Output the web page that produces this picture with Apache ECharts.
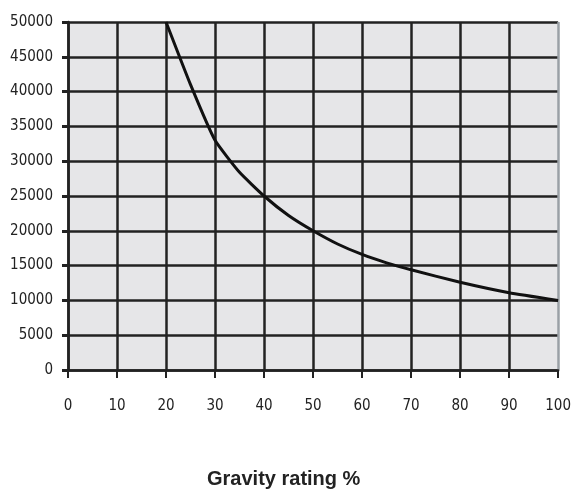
<!DOCTYPE html>
<html>
<head>
<meta charset="utf-8">
<script src="https://cdn.jsdelivr.net/npm/echarts@6/dist/echarts.min.js"></script>
<style>html,body{margin:0;padding:0;background:#fff;}#c{width:574px;height:492px;}</style>
</head>
<body>
<div id="c"></div>
<script>
const gravityRating = [20, 25, 30, 35, 40, 45, 50, 55, 60, 65, 70, 80, 90, 100];
const values = [50000, 41000, 33000, 28400, 25000, 22200, 20000, 18100, 16600, 15400, 14400, 12600, 11100, 10000];
const xTitle = 'Gravity rating %';

const chart = echarts.init(document.getElementById('c'));
const labelFont = {fontFamily: '"DejaVu Sans Condensed", "Liberation Sans Narrow", sans-serif', fontSize: 15, color: '#222', formatter: v => String(v)};
const vColors = ['#222','#222','#222','#222','#222','#222','#222','#222','#222','#222','#9aa0a6'];
chart.setOption({
  animation: false,
  grid: {left: 68, right: 13, top: 22, bottom: 122, show: true, backgroundColor: '#e6e6e8', borderWidth: 0},
  xAxis: {
    type: 'value', min: 0, max: 100, interval: 10,
    axisLine: {show: true, lineStyle: {color: '#222', width: 2.5}},
    axisTick: {show: true, length: 8, lineStyle: {color: '#222', width: 2}},
    axisLabel: Object.assign({margin: 29}, labelFont),
    splitLine: {show: true, lineStyle: {color: vColors, width: 2.5}}
  },
  yAxis: {
    type: 'value', min: 0, max: 50000, interval: 5000,
    axisLine: {show: true, onZero: false, lineStyle: {color: '#222', width: 2.5}},
    axisTick: {show: true, length: 6, lineStyle: {color: '#222', width: 3}},
    axisLabel: Object.assign({margin: 15}, labelFont),
    splitLine: {show: true, lineStyle: {color: '#222', width: 2.5}}
  },
  series: [{
    type: 'line',
    data: gravityRating.map((x, i) => [x, values[i]]),
    showSymbol: false,
    smooth: 0.15,
    lineStyle: {color: '#111', width: 3},
    z: 5
  }],
  graphic: [{
    type: 'text', left: 207, top: 469,
    style: {text: xTitle, font: 'bold 20px "Liberation Sans", Arial, sans-serif', fill: '#222'}
  }]
});
</script>
</body>
</html>
